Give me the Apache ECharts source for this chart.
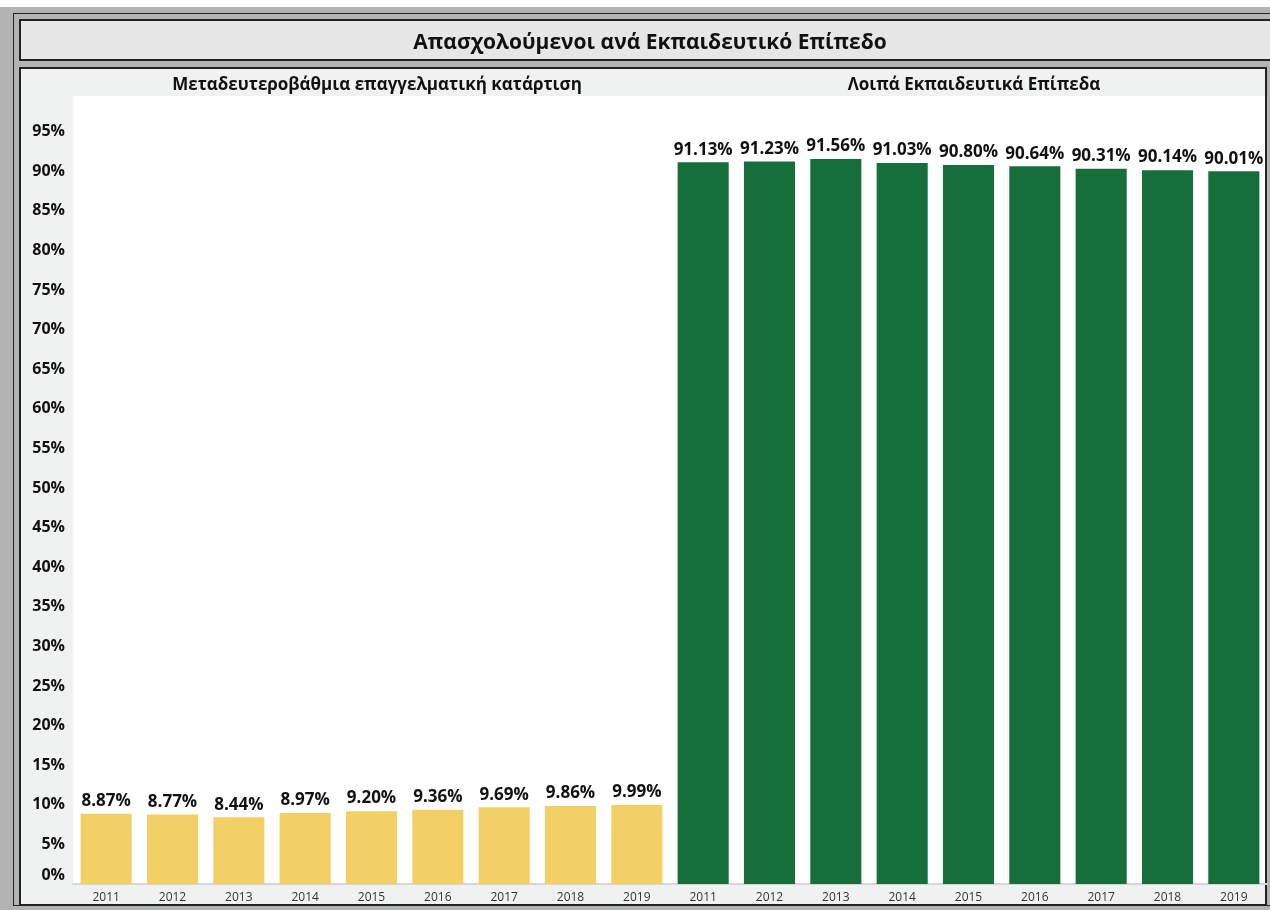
<!DOCTYPE html>
<html><head><meta charset="utf-8">
<script src="https://cdn.jsdelivr.net/npm/echarts@6/dist/echarts.min.js"></script>
<style>
html,body{margin:0;padding:0;width:1270px;height:910px;overflow:hidden;background:#fff;}
#frame{position:absolute;left:0;top:7px;width:1290px;height:910px;background:#b3b3b3;}
#outer{position:absolute;left:13px;top:13px;width:1290px;height:893px;border:1px solid #222;box-sizing:border-box;}
#titlebox{position:absolute;left:19px;top:19px;width:1280px;height:42px;background:#e6e6e6;border:2px solid #222;box-sizing:border-box;}
#panel{position:absolute;left:19px;top:67px;width:1248px;height:839px;background:#f0f2f2;border:2px solid #222;box-sizing:border-box;}
#plotbg{position:absolute;left:73px;top:96px;width:1192px;height:788px;background:#fff;}
#chart{position:absolute;left:0;top:0;width:1270px;height:910px;}
</style></head>
<body>
<div id="frame"></div><div id="outer"></div><div id="titlebox"></div><div id="panel"></div><div id="plotbg"></div>
<div id="chart"></div>
<script>
const years = ['2011','2012','2013','2014','2015','2016','2017','2018','2019'];
const vocational = [8.87, 8.77, 8.44, 8.97, 9.20, 9.36, 9.69, 9.86, 9.99];
const otherLevels = [91.13, 91.23, 91.56, 91.03, 90.80, 90.64, 90.31, 90.14, 90.01];
const chartTitle = 'Απασχολούμενοι ανά Εκπαιδευτικό Επίπεδο';
const facetTitles = ['Μεταδευτεροβάθμια επαγγελματική κατάρτιση', 'Λοιπά Εκπαιδευτικά Επίπεδα'];

const FONT = "'Open Sans', 'Noto Sans', sans-serif";
const chart = echarts.init(document.getElementById('chart'), null, {renderer:'canvas'});
const pct = v => v.toFixed(2) + '%';
function xAxis(i){
  return {type:'category', gridIndex:i, data:years,
    axisLine:{show:true, lineStyle:{color:'#d6d6d6', width:2}},
    axisTick:{show:false},
    axisLabel:{color:'#333', fontSize:12, fontFamily:FONT, margin:8}};
}
function yAxis(i, show){
  return {type:'value', gridIndex:i, min:0, max:99.5, interval:5,
    splitLine:{show:false}, axisLine:{show:false}, axisTick:{show:false},
    axisLabel:{show:show, color:'#111', fontWeight:'bold', fontSize:16, fontFamily:FONT, margin:8,
      formatter: v => v > 95 ? '' : (v === 0 ? '{z|0%}' : v + '%'),
      rich:{z:{fontWeight:'bold', fontSize:16, fontFamily:FONT, color:'#111', padding:[0,0,18,0]}}}};
}
function bars(i, data, color){
  return {type:'bar', xAxisIndex:i, yAxisIndex:i, data:data, barCategoryGap:'23%',
    itemStyle:{color:color},
    label:{show:true, position:'top', distance:4, formatter:p => pct(p.value),
      color:'#111', fontWeight:'bold', fontSize:17, fontFamily:FONT}};
}
chart.setOption({
  animation:false,
  title:[
    {text:chartTitle, left:645, top:28, textAlign:'center',
     textStyle:{fontFamily:FONT, fontWeight:'bold', fontSize:21, color:'#111'}},
    {text:facetTitles[0], left:372, top:72, textAlign:'center',
     textStyle:{fontFamily:FONT, fontWeight:'bold', fontSize:17, color:'#111'}},
    {text:facetTitles[1], left:969, top:72, textAlign:'center',
     textStyle:{fontFamily:FONT, fontWeight:'bold', fontSize:17, color:'#111'}}
  ],
  grid:[
    {left:73, top:96, width:597, height:788, containLabel:false},
    {left:670, top:96, width:597, height:788, containLabel:false}
  ],
  xAxis:[xAxis(0), xAxis(1)],
  yAxis:[yAxis(0,true), yAxis(1,false)],
  series:[bars(0, vocational, '#f2d066'), bars(1, otherLevels, '#166e3b')]
});
</script>
</body></html>
